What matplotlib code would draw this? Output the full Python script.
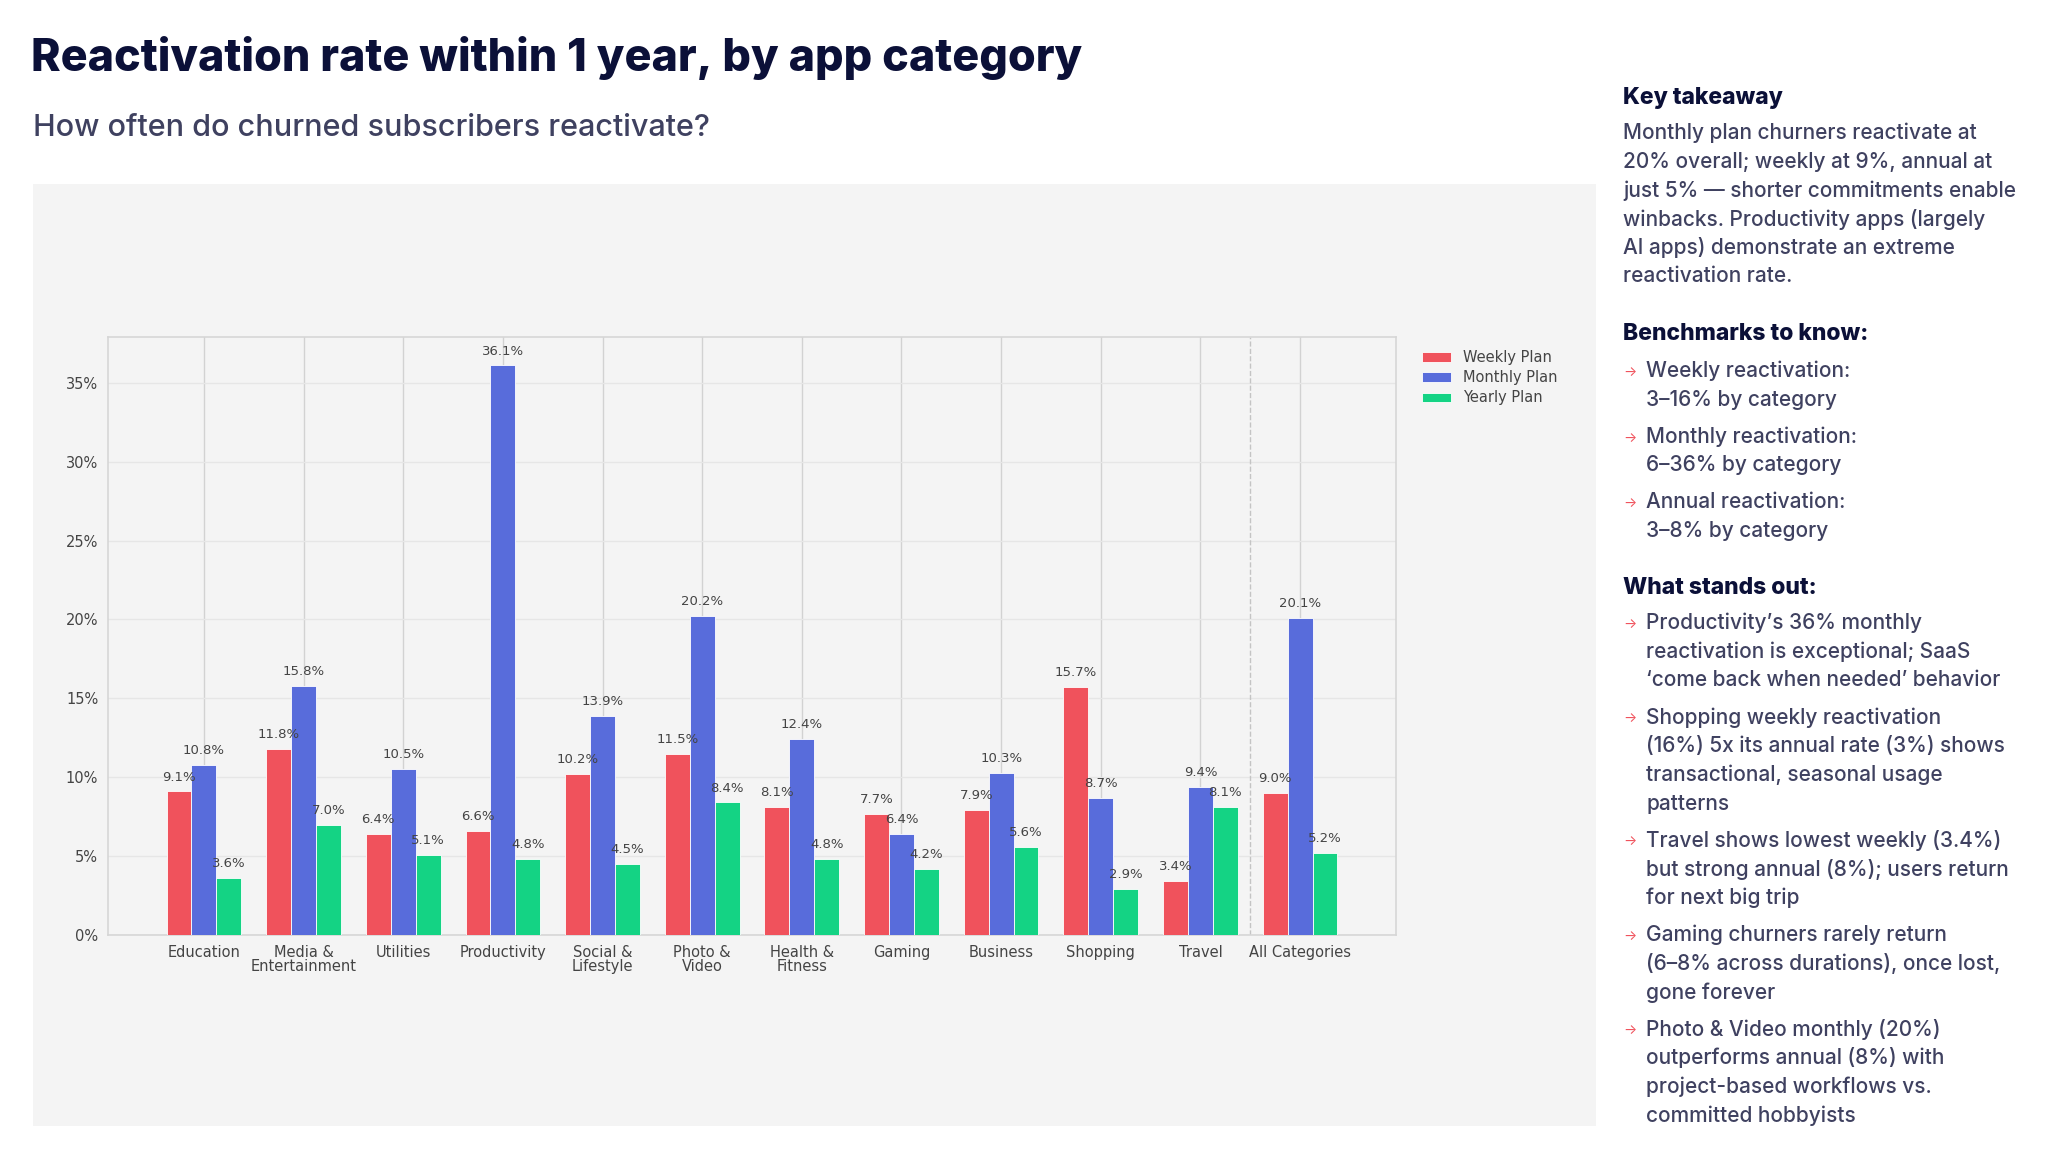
import numpy as np
import matplotlib
matplotlib.use("Agg")
import matplotlib.pyplot as plt
from matplotlib.patches import Rectangle

# data
categories = ["Education", "Media &\nEntertainment", "Utilities", "Productivity",
              "Social &\nLifestyle", "Photo &\nVideo", "Health &\nFitness", "Gaming",
              "Business", "Shopping", "Travel", "All Categories"]
weekly = [9.1, 11.8, 6.4, 6.6, 10.2, 11.5, 8.1, 7.7, 7.9, 15.7, 3.4, 9.0]
monthly = [10.8, 15.8, 10.5, 36.1, 13.9, 20.2, 12.4, 6.4, 10.3, 8.7, 9.4, 20.1]
yearly = [3.6, 7.0, 5.1, 4.8, 4.5, 8.4, 4.8, 4.2, 5.6, 2.9, 8.1, 5.2]
series_names = ["Weekly Plan", "Monthly Plan", "Yearly Plan"]
yticks = [0, 5, 10, 15, 20, 25, 30, 35]

title = "Reactivation rate within 1 year, by app category"
subtitle = "How often do churned subscribers reactivate?"
takeaway_head = "Key takeaway"
takeaway_lines = ["Monthly plan churners reactivate at",
                  "20% overall; weekly at 9%, annual at",
                  "just 5% \u2014 shorter commitments enable",
                  "winbacks. Productivity apps (largely",
                  "AI apps) demonstrate an extreme",
                  "reactivation rate."]
bench_head = "Benchmarks to know:"
bench_items = [["Weekly reactivation:", "3\u201316% by category"],
               ["Monthly reactivation:", "6\u201336% by category"],
               ["Annual reactivation:", "3\u20138% by category"]]
stand_head = "What stands out:"
stand_items = [["Productivity\u2019s 36% monthly", "reactivation is exceptional; SaaS",
                "\u2018come back when needed\u2019 behavior"],
               ["Shopping weekly reactivation", "(16%) 5x its annual rate (3%) shows",
                "transactional, seasonal usage", "patterns"],
               ["Travel shows lowest weekly (3.4%)", "but strong annual (8%); users return",
                "for next big trip"],
               ["Gaming churners rarely return", "(6\u20138% across durations), once lost,",
                "gone forever"],
               ["Photo & Video monthly (20%)", "outperforms annual (8%) with",
                "project-based workflows vs.", "committed hobbyists"]]

W, H = 2048, 1162
NAVY = "#0b1038"
BODY = "#3f4160"
RED = "#f0525c"
colors = ["#f0525c", "#586cdb", "#14d384"]


def px(x, y):
    return x / W, 1 - y / H


fig = plt.figure(figsize=(W / 100, H / 100), dpi=100)
fig.patch.set_facecolor("white")

# grey chart panel
fig.patches.append(Rectangle(px(33, 1126), (1596 - 33) / W, (1126 - 184) / H,
                             transform=fig.transFigure, facecolor="#f4f4f4",
                             edgecolor="none", zorder=-10))

ax = fig.add_axes([108 / W, 1 - 935 / H, (1396 - 108) / W, (935 - 337) / H])
ax.set_facecolor("#f4f4f4")

x = np.arange(len(categories))
bw = 0.25
for i, (vals, name) in enumerate(zip([weekly, monthly, yearly], series_names)):
    bars = ax.bar(x + (i - 1) * bw, vals, bw, color=colors[i], label=name,
                  edgecolor="white", linewidth=0.6, zorder=3)
    for b, v in zip(bars, vals):
        ax.text(b.get_x() + b.get_width() / 2, v + 0.5, f"{v:.1f}%",
                ha="center", va="bottom", fontsize=9.5, color="#444444", zorder=4)

ax.set_ylim(0, max(monthly) * 1.05)
ax.set_yticks(yticks)
ax.set_yticklabels([f"{t}%" for t in yticks])
ax.set_xticks(x)
ax.set_xticklabels(categories, linespacing=0.95)
ax.tick_params(axis="both", length=0, labelsize=10.5, labelcolor="#444444", pad=7)
ax.xaxis.grid(True, color="#d2d2d2", linewidth=1.0, zorder=0)
ax.yaxis.grid(True, color="#e6e6e6", linewidth=1.0, zorder=0)
ax.set_axisbelow(True)
for s in ax.spines.values():
    s.set_color("#d6d6d6")
    s.set_linewidth(1.2)
ax.axvline(len(categories) - 1.5, color="#c4c4c4", linestyle="--", linewidth=1.0, zorder=1)

ax.legend(loc="upper left", bbox_to_anchor=(1.01, 1.0), frameon=False,
          fontsize=10.5, labelcolor="#444444", handlelength=2.0, handleheight=0.6,
          labelspacing=0.35)

# header
fig.text(*px(31, 58), title, fontsize=32.3, fontweight="heavy", color=NAVY,
         family="Inter", va="center", ha="left")
fig.text(*px(33, 128), subtitle, fontsize=22, fontweight="medium", color=BODY,
         family="Inter", va="center", ha="left")

# side panel
TX, BX, IX = 1623, 1623, 1646
fs_head, fs_body = 16.5, 15
LS, GAP = 28.7, 37


def head(y, s):
    fig.text(*px(TX, y), s, fontsize=fs_head, fontweight="heavy", color=NAVY,
             family="Inter", va="center", ha="left")


def line(xp, y, s):
    fig.text(*px(xp, y), s, fontsize=fs_body, fontweight="medium", color=BODY,
             family="Inter", va="center", ha="left")


def arrow(y):
    fig.text(*px(BX, y + 1), "\u2192", fontsize=10, color=RED,
             family=["Inter", "DejaVu Sans"], va="center", ha="left")


head(98, takeaway_head)
for k, s in enumerate(takeaway_lines):
    line(TX, 133 + k * LS, s)

head(334, bench_head)
y = 371
for item in bench_items:
    arrow(y)
    for k, s in enumerate(item):
        line(IX, y + k * LS, s)
    y += (len(item) - 1) * LS + GAP

head(588, stand_head)
y = 623
for item in stand_items:
    arrow(y)
    for k, s in enumerate(item):
        line(IX, y + k * LS, s)
    y += (len(item) - 1) * LS + GAP

fig.savefig("out.png", dpi=100, facecolor="white")
